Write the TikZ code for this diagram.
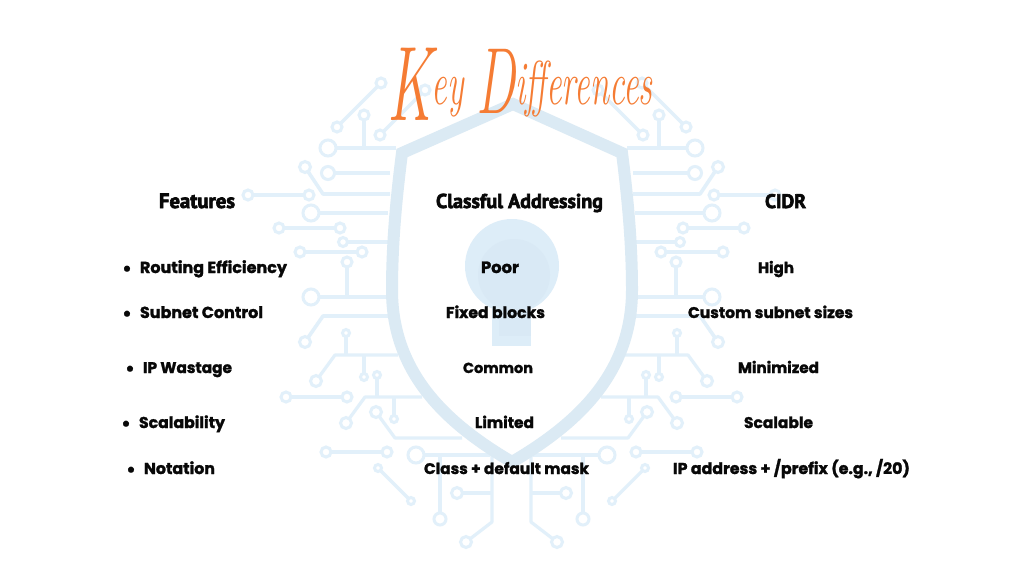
\documentclass[tikz,border=0pt]{standalone}
\usepackage{fontspec}
\usepackage{graphicx}
\newfontfamily\bodyfont[BoldFeatures={FakeBold=1.6}]{Poppins}
\newfontfamily\headfont[BoldFeatures={FakeBold=3.2}]{PT Sans}
\definecolor{shieldblue}{RGB}{219,234,244}
\definecolor{trackblue}{RGB}{226,240,250}
\definecolor{holeouter}{RGB}{221,237,248}
\definecolor{holeinner}{RGB}{217,233,245}
\definecolor{titleorange}{RGB}{245,124,52}
\definecolor{inkblack}{RGB}{8,8,8}
\tikzset{
  x=1pt,y=-1pt,
  track/.style={draw=trackblue,line width=3.2pt,line join=round},
  pad/.style={draw=trackblue,line width=3pt,fill=white},
  bodytext/.style={inner sep=0pt,anchor=base,text=inkblack,font=\bodyfont\bfseries},
  bullettext/.style={inner sep=0pt,anchor=base,text=inkblack,font=\bodyfont\bfseries\fontsize{19}{19}\selectfont},
  headtext/.style={inner sep=0pt,anchor=base,text=inkblack,font=\headfont\bfseries},
  titletext/.style={inner sep=0pt,anchor=base,text=titleorange},
}
\newcommand{\halfcircuit}{%
  \draw[track] (381,83) -- (337,127);
  \draw[track] (364,115) -- (364,148);
  \draw[track] (380,135) -- (425,90);
  \draw[track,line width=4pt] (328,148) -- (396,148);
  \draw[track,line width=4pt] (328,173) -- (390,173);
  \draw[track,line width=3.6pt] (305,167) -- (323,194) -- (390,194);
  \draw[track] (248,195) -- (309,195);
  \draw[track,line width=4pt] (311,213) -- (388,213);
  \draw[track] (279,228) -- (340,228);
  \draw[track] (343,242) -- (388,242);
  \draw[track] (300,252) -- (362,252);
  \draw[track] (347,262) -- (347,297);
  \draw[track,line width=4pt] (311,297) -- (388,297);
  \draw[track,line width=3.6pt] (305,342) -- (323,316) -- (388,316);
  \draw[track] (346,333) -- (346,355);
  \draw[track] (316,381) -- (335,355) -- (398,355);
  \draw[track] (364,355) -- (364,377);
  \draw[track] (286,397) -- (347,397);
  \draw[track] (346,423) -- (365,397) -- (422,397);
  \draw[track] (377,397) -- (377,375);
  \draw[track] (394,397) -- (394,419);
  \draw[track] (376,412) -- (395,438) -- (462,438);
  \draw[track] (326,452) -- (387,452);
  \draw[track,line width=4pt] (416,455) -- (490,455);
  \draw[track] (440,455) -- (440,519);
  \draw[track] (492,455) -- (492,522) -- (466,542);
  \draw[track] (492,493) -- (457,493);
  \draw[track] (378,468) -- (411,501);
  \foreach \px/\py/\pr in {
    381/83/5,337/127/5,364/115/5,380/135/5,425/90/5,
    328/148/8,328/173/6.5,305/167/5.5,248/195/5,309/195/5,
    311/213/8,279/228/5,340/228/5,343/242/4.5,300/252/5,362/252/5,
    347/262/5,311/297/8,305/342/5.5,346/333/3.5,316/381/5.5,364/377/3.5,
    286/397/5,347/397/5,346/423/5.5,377/375/3.5,394/419/3.5,376/412/5.5,
    326/452/5,387/452/5,416/455/8,440/519/6,466/542/5.5,457/493/5.5,
    378/468/3.5,411/501/3.5}
    {\draw[pad] (\px,\py) circle (\pr);}
}
\begin{document}
\begin{tikzpicture}
\useasboundingbox (0,0) rectangle (1024,576);
\fill[white] (0,0) rectangle (1024,576);
% circuit, mirrored about the shield's axis
\halfcircuit
\begin{scope}[shift={(1023,0)},xscale=-1]
  \halfcircuit
\end{scope}
% keyhole
\fill[holeouter] (512,266) circle (47);
\fill[holeouter] (492,290) rectangle (531,346);
\fill[holeinner] (514,275) circle (36);
\fill[holeinner] (499,290) rectangle (531,336);
% shield
\draw[draw=shieldblue,line width=12pt,line join=miter,fill=none]
  (513,104) -- (622,153)
  .. controls (628,200) and (632,245) .. (632,290)
  .. controls (632,375) and (575,425) .. (512,462)
  .. controls (449,425) and (392,375) .. (392,290)
  .. controls (392,245) and (396,200) .. (402,153) -- cycle;
% title
\node[titletext] (title) at (520,104) {\scalebox{.56}[1]{\itshape\raisebox{-16pt}{\fontsize{106}{106}\selectfont K}\fontsize{62}{62}\selectfont ey \raisebox{-9pt}{\fontsize{94}{94}\selectfont D}\fontsize{62}{62}\selectfont ifferences}};
% headings
\node[headtext] (h1) at (197,208) {\resizebox{76pt}{!}{Features}};
\node[headtext] (h2) at (519.5,208) {\resizebox{167pt}{!}{Classful Addressing}};
\node[headtext] (h3) at (785.5,208) {\resizebox{41pt}{!}{CIDR}};
% features
\node[bullettext] (b1) at (127,275) {•};
\node[bodytext] (f1) at (213.5,273) {\resizebox{147pt}{!}{Routing Efficiency}};
\node[bullettext] (b2) at (127,320) {•};
\node[bodytext] (f2) at (201.5,318) {\resizebox{123pt}{!}{Subnet Control}};
\node[bullettext] (b3) at (130,375) {•};
\node[bodytext] (f3) at (187.5,373) {\resizebox{89pt}{!}{IP Wastage}};
\node[bullettext] (b4) at (126,430) {•};
\node[bodytext] (f4) at (182,428) {\resizebox{86pt}{!}{Scalability}};
\node[bullettext] (b5) at (131,476) {•};
\node[bodytext] (f5) at (179.5,474) {\resizebox{71pt}{!}{Notation}};
% classful
\node[bodytext] (c1) at (500,273) {\resizebox{38pt}{!}{Poor}};
\node[bodytext] (c2) at (495.5,318) {\resizebox{99pt}{!}{Fixed blocks}};
\node[bodytext] (c3) at (498,373) {\resizebox{70pt}{!}{Common}};
\node[bodytext] (c4) at (504.5,428) {\resizebox{59pt}{!}{Limited}};
\node[bodytext] (c5) at (506.5,474) {\resizebox{165pt}{!}{Class + default mask}};
% cidr
\node[bodytext] (r1) at (776,273) {\resizebox{36pt}{!}{High}};
\node[bodytext] (r2) at (770.5,318) {\resizebox{165pt}{!}{Custom subnet sizes}};
\node[bodytext] (r3) at (778.5,373) {\resizebox{81pt}{!}{Minimized}};
\node[bodytext] (r4) at (778.5,428) {\resizebox{69pt}{!}{Scalable}};
\node[bodytext] (r5) at (791.5,474) {\resizebox{237pt}{!}{IP address + /prefix (e.g., /20)}};
\end{tikzpicture}
\end{document}
